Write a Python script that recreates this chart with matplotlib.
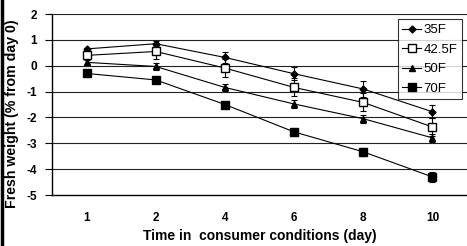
import matplotlib
matplotlib.use("Agg")
import matplotlib.pyplot as plt
from matplotlib.lines import Line2D

days = ["1", "2", "4", "6", "8", "10"]
series_names = ["35F", "42.5F", "50F", "70F"]
v35 = [0.65, 0.85, 0.32, -0.31, -0.90, -1.78]
v425 = [0.40, 0.55, -0.09, -0.84, -1.42, -2.37]
v50 = [0.13, -0.03, -0.84, -1.48, -2.05, -2.79]
v70 = [-0.30, -0.55, -1.50, -2.56, -3.33, -4.30]
e35 = [0.05, 0.10, 0.20, 0.25, 0.30, 0.25]
e425 = [0.15, 0.30, 0.35, 0.35, 0.35, 0.35]
e50 = [0.10, 0.15, 0.15, 0.15, 0.15, 0.15]
e70 = [0.05, 0.05, 0.08, 0.10, 0.15, 0.20]
yticks = [2, 1, 0, -1, -2, -3, -4, -5]

plt.rcParams['font.family'] = ['Liberation Sans', 'DejaVu Sans']

fig = plt.figure(figsize=(4.67, 2.46), dpi=100)
ax = fig.add_axes([52/467, 51/246, 415/467, 181/246])

x = [i + 0.5 for i in range(len(days))]
styles = [
    dict(marker='D', ms=3.5, mfc='black', mec='black'),
    dict(marker='s', ms=5.5, mfc='white', mec='black'),
    dict(marker='^', ms=4.5, mfc='black', mec='black'),
    dict(marker='s', ms=5.2, mfc='black', mec='black'),
]
for vals, errs, st in zip([v35, v425, v50, v70], [e35, e425, e50, e70], styles):
    ax.errorbar(x, vals, yerr=errs, color='black', lw=0.8, elinewidth=0.8,
                capsize=2.5, capthick=0.8, zorder=3, **st)

ax.set_xlim(0, 6)
ax.set_ylim(-5, 2)
ax.set_yticks(yticks)
ax.set_yticklabels([str(t) for t in yticks], fontsize=8.5, fontweight='bold')
ax.set_xticks(x)
ax.set_xticklabels(days, fontsize=8.5, fontweight='bold')
ax.tick_params(axis='x', length=0, pad=12)
ax.tick_params(axis='y', length=5, width=0.8, direction='out', pad=6)
for t in [2, 1, 0, -1, -2, -3, -4]:
    ax.axhline(t, color='#222222', lw=0.8, zorder=1)
for s in ['top', 'right']:
    ax.spines[s].set_visible(False)
ax.spines['left'].set_linewidth(1.0)
ax.spines['bottom'].set_linewidth(1.0)

ax.set_xlabel("Time in  consumer conditions (day)", fontsize=10, fontweight='bold', labelpad=4)
ax.set_ylabel("Fresh weight (% from day 0)", fontsize=10.2, fontweight='bold', labelpad=0)
ax.yaxis.set_label_coords(-0.08, 0.45)

handles = [Line2D([0], [0], color='black', lw=0.8, **st) for st in styles]
leg = ax.legend(handles, series_names, loc='upper right', bbox_to_anchor=(0.988, 0.97),
                fontsize=9.5, frameon=True, fancybox=False, edgecolor='black',
                handlelength=1.4, handletextpad=0.2, borderpad=0.35, labelspacing=0.55,
                borderaxespad=0)
leg.get_frame().set_linewidth(0.8)
leg.set_zorder(5)

fig.add_artist(Line2D([1.5/467, 1.5/467], [0, 1], transform=fig.transFigure,
                      color='black', lw=2.5))

fig.savefig("out.png", dpi=100)
